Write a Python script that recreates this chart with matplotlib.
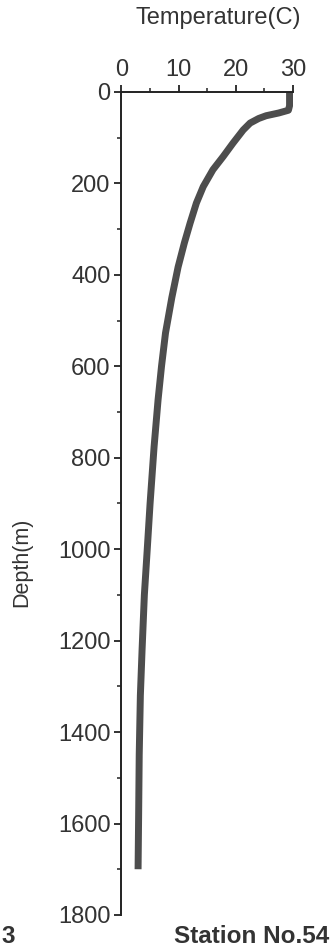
import numpy as np
from matplotlib import pyplot as plt
from matplotlib.ticker import MultipleLocator

plt.rcParams['font.family'] = ['Liberation Sans', 'DejaVu Sans']

# temperature profile
depth = [0, 10, 20, 30, 40, 46, 52, 58, 68, 83, 112, 141, 170, 207, 243, 287,
         330, 383, 450, 527, 600, 673, 776, 900, 1001, 1100, 1220, 1320,
         1450, 1580, 1700]
temp = [29.4, 29.4, 29.4, 29.4, 29.2, 27.5, 25.3, 24.0, 22.5, 21.3, 19.5, 17.8,
        16.0, 14.3, 13.1, 12.0, 11.0, 9.9, 8.8, 7.7, 7.0, 6.4, 5.7, 5.0,
        4.5, 4.0, 3.6, 3.3, 3.1, 3.0, 2.9]

fig = plt.figure(figsize=(3.36, 9.51), dpi=100)
ax = fig.add_axes([0.3616, 0.0379, 0.872 - 0.3616, 0.9033 - 0.0379])

ax.plot(temp, depth, color='#4d4d4d', lw=5, solid_capstyle='butt',
        solid_joinstyle='round')

ax.set_xlim(0, 30)
ax.set_ylim(1800, 0)
ax.xaxis.set_ticks_position('top')
ax.set_xticks([0, 10, 20, 30])
ax.xaxis.set_minor_locator(MultipleLocator(5))
ax.set_yticks(np.arange(0, 1801, 200))
ax.yaxis.set_minor_locator(MultipleLocator(100))

for s in ['right', 'bottom']:
    ax.spines[s].set_visible(False)
for s in ['left', 'top']:
    ax.spines[s].set_linewidth(1.4)
    ax.spines[s].set_color('#222222')

ax.tick_params(which='major', length=5, width=1.3, labelsize=17,
               colors='#222222', pad=3)
ax.tick_params(which='minor', length=3, width=1.1, colors='#222222')
for lab in ax.get_xticklabels() + ax.get_yticklabels():
    lab.set_color('#333333')

fig.text(218 / 336, 1 - 18 / 951, 'Temperature(C)', fontsize=17,
         color='#333333', ha='center', va='center')
fig.text(22 / 336, 1 - 562 / 951, 'Depth(m)', fontsize=15.5, rotation=90,
         color='#333333', ha='center', va='center')

fig.text(0.005, 0.008, '3', fontsize=17.5, color='#333333', fontweight='bold')
fig.text(329 / 336, 0.008, 'Station No.54', fontsize=17.5, color='#333333',
         ha='right', fontweight='bold')

fig.savefig('out.png', dpi=100)
